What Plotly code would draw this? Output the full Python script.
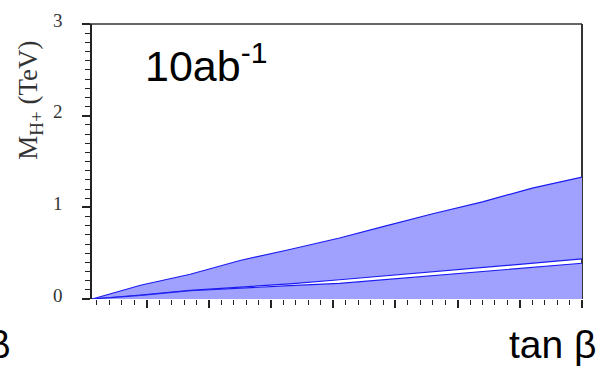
import plotly.graph_objects as go

# tan(beta) sample points
tanb = [0.6, 4.5, 8.5, 12.5, 16.5, 20.5, 24, 28, 32, 36, 40]
# upper edge of the upper band (TeV)
upper = [0.0, 0.15, 0.27, 0.42, 0.54, 0.665, 0.79, 0.93, 1.06, 1.21, 1.33]
# lower edge of the upper band (TeV)
mid_hi = [0.0, 0.042, 0.094, 0.13, 0.165, 0.21, 0.25, 0.297, 0.344, 0.39, 0.437]
# upper edge of the lower band (TeV)
mid_lo = [0.0, 0.038, 0.09, 0.12, 0.145, 0.17, 0.21, 0.255, 0.30, 0.345, 0.39]
zero = [0.0] * len(tanb)

ytick_vals = [0, 1, 2, 3]
ytick_text = ["0", "1", "2", "3"]

FILL = "#a0a0ff"
EDGE = "#1c1cf0"

fig = go.Figure()
# upper band
fig.add_trace(go.Scatter(x=tanb, y=mid_hi, mode="lines",
                         line=dict(color=EDGE, width=1.2), showlegend=False, hoverinfo="skip"))
fig.add_trace(go.Scatter(x=tanb, y=upper, mode="lines", fill="tonexty", fillcolor=FILL,
                         line=dict(color=EDGE, width=1.2), showlegend=False, hoverinfo="skip"))
# lower band
fig.add_trace(go.Scatter(x=tanb, y=zero, mode="lines",
                         line=dict(color=FILL, width=0), showlegend=False, hoverinfo="skip"))
fig.add_trace(go.Scatter(x=tanb, y=mid_lo, mode="lines", fill="tonexty", fillcolor=FILL,
                         line=dict(color=EDGE, width=1.2), showlegend=False, hoverinfo="skip"))

fig.update_layout(
    width=611, height=369,
    margin=dict(l=92, r=29, t=10, b=70),
    paper_bgcolor="white", plot_bgcolor="white",
    showlegend=False,
    xaxis=dict(range=[0.6, 40], showgrid=False, zeroline=False, showline=False,
               ticks="outside", ticklen=8, tickwidth=1.5, tickcolor="#222",
               tick0=0, dtick=5, showticklabels=False,
               minor=dict(dtick=1, ticklen=5, tickwidth=1.2, tickcolor="#222", ticks="outside")),
    yaxis=dict(range=[0, 3], showgrid=False, zeroline=False, showline=True,
               linecolor="#222", linewidth=1.5,
               ticks="outside", ticklen=8, tickwidth=1.5, tickcolor="#222",
               tickvals=ytick_vals, ticktext=ytick_text,
               ticklabelstandoff=16, ticklabelshift=-4, ticklabeloverflow="allow",
               tickfont=dict(family="Liberation Serif", size=19, color="#333"),
               minor=dict(dtick=0.1, ticklen=5, tickwidth=1.2, tickcolor="#222", ticks="outside")),
    shapes=[
        dict(type="line", xref="paper", yref="paper", x0=-0.0149, x1=1.0, y0=1, y1=1,
             line=dict(color="#666", width=2), layer="below"),
        dict(type="line", xref="paper", yref="paper", x0=1, x1=1, y0=0, y1=1,
             line=dict(color="#333", width=2), layer="below"),
    ],
    annotations=[
        dict(text="M<sub>H+</sub> (TeV)", xref="paper", yref="paper", x=-0.127, y=0.724,
             xanchor="center", yanchor="middle", textangle=-90, showarrow=False,
             font=dict(family="Liberation Serif", size=27, color="#333")),
        dict(text="10ab<sup>-1</sup>", xref="paper", yref="paper", x=0.105, y=0.859,
             xanchor="left", yanchor="middle", showarrow=False,
             font=dict(family="Liberation Sans", size=43, color="black")),
        dict(text="tan β", xref="paper", yref="paper", x=1.032, y=-0.165,
             xanchor="right", yanchor="middle", showarrow=False,
             font=dict(family="Liberation Sans", size=39, color="black")),
        dict(text="β", xref="paper", yref="paper", x=-0.163, y=-0.165,
             xanchor="right", yanchor="middle", showarrow=False,
             font=dict(family="Liberation Sans", size=39, color="black")),
    ],
)

fig.write_html("out.html", config={"displayModeBar": False},
               post_script="document.body.style.margin='0';")
